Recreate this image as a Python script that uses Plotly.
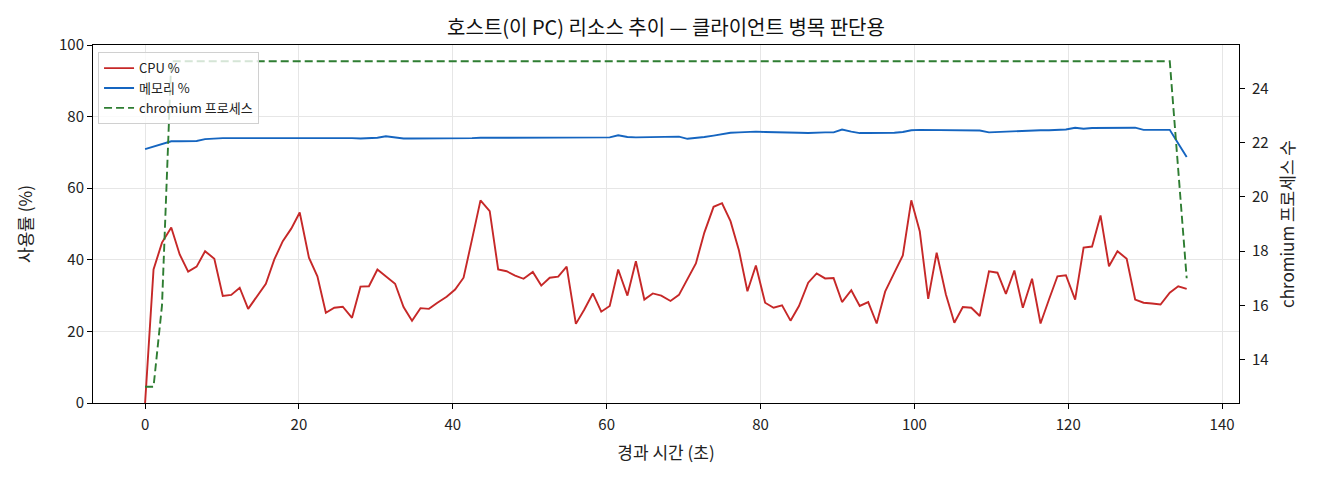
import plotly.graph_objects as go

# 경과 시간 (초)
elapsed = [
    0.0, 1.1, 2.2, 3.4, 4.5, 5.6, 6.7, 7.8, 9.0, 10.1,
    11.2, 12.3, 13.4, 14.5, 15.7, 16.8, 17.9, 19.0, 20.1, 21.3,
    22.4, 23.5, 24.6, 25.7, 26.9, 28.0, 29.1, 30.2, 31.3, 32.5,
    33.6, 34.7, 35.8, 36.9, 38.0, 39.2, 40.3, 41.4, 42.5, 43.6,
    44.8, 45.9, 47.0, 48.1, 49.2, 50.4, 51.5, 52.6, 53.7, 54.8,
    56.0, 57.1, 58.2, 59.3, 60.4, 61.5, 62.7, 63.8, 64.9, 66.0,
    67.1, 68.3, 69.4, 70.5, 71.6, 72.7, 73.9, 75.0, 76.1, 77.2,
    78.3, 79.4, 80.6, 81.7, 82.8, 83.9, 85.0, 86.2, 87.3, 88.4,
    89.5, 90.6, 91.8, 92.9, 94.0, 95.1, 96.2, 97.4, 98.5, 99.6,
    100.7, 101.8, 102.9, 104.1, 105.2, 106.3, 107.4, 108.5, 109.7, 110.8,
    111.9, 113.0, 114.1, 115.3, 116.4, 117.5, 118.6, 119.7, 120.9, 122.0,
    123.1, 124.2, 125.3, 126.4, 127.6, 128.7, 129.8, 130.9, 132.0, 133.2,
    134.3, 135.4,
]

cpu = [
    0.0, 37.3, 44.8, 49.0, 41.5, 36.7, 38.1, 42.4, 40.3, 29.9,
    30.2, 32.2, 26.3, 29.6, 33.3, 40.1, 45.2, 48.7, 53.2, 40.6,
    35.4, 25.2, 26.6, 26.9, 23.8, 32.5, 32.6, 37.3, 35.4, 33.3,
    26.8, 23.0, 26.5, 26.3, 28.0, 29.7, 31.7, 35.0, 45.7, 56.6,
    53.6, 37.3, 36.8, 35.6, 34.7, 36.6, 32.8, 35.0, 35.3, 38.1,
    22.1, 26.1, 30.6, 25.5, 27.1, 37.3, 30.0, 39.6, 28.9, 30.6,
    30.0, 28.5, 30.2, 34.5, 39.0, 47.6, 54.8, 55.8, 50.8, 42.6,
    31.2, 38.4, 28.0, 26.6, 27.3, 23.0, 27.1, 33.6, 36.2, 34.8,
    34.9, 28.2, 31.5, 27.1, 28.2, 22.2, 31.1, 36.4, 41.2, 56.6,
    48.0, 29.1, 42.0, 30.3, 22.4, 26.8, 26.6, 24.3, 36.8, 36.4,
    30.5, 37.0, 26.6, 34.7, 22.2, 28.9, 35.4, 35.7, 28.9, 43.4,
    43.7, 52.4, 38.2, 42.4, 40.3, 28.9, 28.0, 27.8, 27.5, 30.8,
    32.6, 31.9,
]

memory = [
    70.9, 71.6, 72.4, 73.1, 73.1, 73.1, 73.2, 73.7, 73.9, 74.0,
    74.0, 74.0, 74.0, 74.0, 74.1, 74.1, 74.1, 74.2, 74.2, 74.1,
    74.1, 74.1, 74.1, 74.1, 74.0, 73.9, 74.0, 74.1, 74.5, 74.2,
    73.9, 73.9, 73.9, 73.9, 73.8, 73.8, 73.9, 74.0, 74.0, 74.1,
    74.2, 74.1, 74.1, 74.1, 74.2, 74.2, 74.2, 74.3, 74.2, 74.2,
    74.2, 74.3, 74.2, 74.2, 74.2, 74.8, 74.3, 74.2, 74.2, 74.3,
    74.4, 74.4, 74.4, 73.8, 74.0, 74.3, 74.7, 75.2, 75.5, 75.6,
    75.7, 75.8, 75.7, 75.6, 75.6, 75.5, 75.5, 75.4, 75.6, 75.6,
    75.6, 76.4, 75.8, 75.4, 75.4, 75.4, 75.4, 75.5, 75.7, 76.2,
    76.3, 76.3, 76.3, 76.3, 76.2, 76.1, 76.1, 76.1, 75.6, 75.7,
    75.8, 76.0, 76.1, 76.1, 76.2, 76.2, 76.3, 76.4, 76.9, 76.6,
    76.8, 76.8, 76.8, 76.9, 76.9, 76.9, 76.3, 76.3, 76.3, 76.3,
    72.5, 68.7,
]

chromium = [
    13, 13, 16, 25, 25, 25, 25, 25, 25, 25,
    25, 25, 25, 25, 25, 25, 25, 25, 25, 25,
    25, 25, 25, 25, 25, 25, 25, 25, 25, 25,
    25, 25, 25, 25, 25, 25, 25, 25, 25, 25,
    25, 25, 25, 25, 25, 25, 25, 25, 25, 25,
    25, 25, 25, 25, 25, 25, 25, 25, 25, 25,
    25, 25, 25, 25, 25, 25, 25, 25, 25, 25,
    25, 25, 25, 25, 25, 25, 25, 25, 25, 25,
    25, 25, 25, 25, 25, 25, 25, 25, 25, 25,
    25, 25, 25, 25, 25, 25, 25, 25, 25, 25,
    25, 25, 25, 25, 25, 25, 25, 25, 25, 25,
    25, 25, 25, 25, 25, 25, 25, 25, 25, 25,
    21, 17,
]

x_ticks = [0, 20, 40, 60, 80, 100, 120, 140]
y_ticks = [0, 20, 40, 60, 80, 100]
y2_ticks = [14, 16, 18, 20, 22, 24]

FONT = "Noto Sans CJK KR"

fig = go.Figure()
fig.add_trace(go.Scatter(x=elapsed, y=cpu, mode="lines", name="CPU %",
                         line=dict(color="#c62828", width=1.9)))
fig.add_trace(go.Scatter(x=elapsed, y=memory, mode="lines", name="메모리 %",
                         line=dict(color="#1565c0", width=1.9)))
fig.add_trace(go.Scatter(x=elapsed, y=chromium, mode="lines", name="chromium 프로세스",
                         yaxis="y2",
                         line=dict(color="#2e7d32", width=1.9, dash="8px,4px")))

axis_common = dict(showline=True, linecolor="black", linewidth=1,
                   ticks="outside", ticklen=5, tickcolor="black",
                   tickfont=dict(size=15, color="#222"), zeroline=False)

# 페이지 기본 여백(8px) 때문에 그림 크기를 조금 줄임
fig.update_layout(
    width=1304, height=464,
    margin=dict(l=85, r=73, t=37, b=69),
    paper_bgcolor="white", plot_bgcolor="white",
    font=dict(family=FONT, color="#222"),
    title=dict(text="호스트(이 PC) 리소스 추이 — 클라이언트 병목 판단용",
               x=0.5046, xanchor="center", y=0.957, yanchor="middle",
               font=dict(size=20, color="#111")),
    xaxis=dict(range=[-6.77, 142.2], tickvals=x_ticks, mirror=True,
               showgrid=True, gridcolor="#e6e6e6", ticklabelstandoff=3,
               title=dict(text="경과 시간 (초)", font=dict(size=17), standoff=14),
               **axis_common),
    yaxis=dict(range=[0, 100], tickvals=y_ticks, mirror=False,
               showgrid=True, gridcolor="#e6e6e6",
               title=dict(text="사용률 (%)", font=dict(size=17), standoff=22),
               **axis_common),
    yaxis2=dict(range=[12.4, 25.6], tickvals=y2_ticks, overlaying="y", side="right",
                showgrid=False, ticklabelstandoff=4,
                title=dict(text="chromium 프로세스 수", font=dict(size=17), standoff=14),
                **axis_common),
    legend=dict(x=0.0044, y=0.98, xanchor="left", yanchor="top",
                bgcolor="rgba(255,255,255,0.8)", bordercolor="#d0d0d0", borderwidth=1,
                font=dict(size=13), tracegroupgap=0),
)

fig.write_html("out.html")
